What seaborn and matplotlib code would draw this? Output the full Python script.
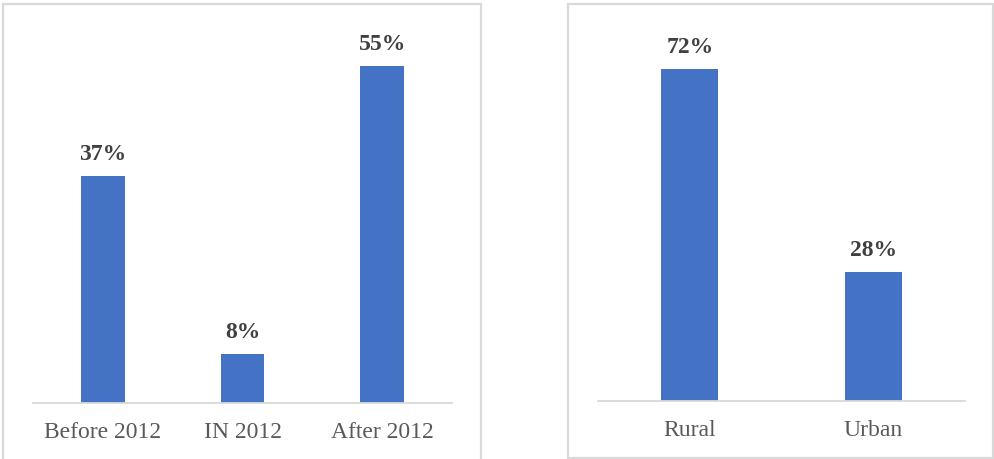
import matplotlib
matplotlib.use("Agg")
import matplotlib.pyplot as plt
from matplotlib.patches import Rectangle
import seaborn as sns
import pandas as pd

# Share of respondents by period
period_labels = ["Before 2012", "IN 2012", "After 2012"]
period_values = [37, 8, 55]

# Share of respondents by area
area_labels = ["Rural", "Urban"]
area_values = [72, 28]

BAR = "#4472C4"
GRID = "#D9D9D9"
TICK = "#595959"
VALUE = "#404040"

sns.set_theme(style="white")
plt.rcParams["font.family"] = ["Liberation Serif", "DejaVu Serif"]

W, H = 994, 459
fig = plt.figure(figsize=(W / 100, H / 100), dpi=100)


def px_axes(x0, y_top, x1, y_bottom):
    return fig.add_axes([x0 / W, (H - y_bottom) / H, (x1 - x0) / W, (y_bottom - y_top) / H])


# panel frames
for (x0, y0, x1, y1) in [(3, 4, 481, 462), (568, 4, 993, 458)]:
    fig.patches.append(Rectangle((x0 / W, (H - y1) / H), (x1 - x0) / W, (y1 - y0) / H,
                                 transform=fig.transFigure, fill=False,
                                 edgecolor=GRID, linewidth=1.6))


def draw(ax, labels, values, ymax, width):
    df = pd.DataFrame({"cat": labels, "val": values})
    sns.barplot(data=df, x="cat", y="val", ax=ax, color=BAR, saturation=1,
                width=width, linewidth=0)
    ax.set_xlim(-0.5, len(labels) - 0.5)
    ax.set_ylim(0, ymax)
    ax.set_xlabel("")
    ax.set_ylabel("")
    ax.set_yticks([])
    for s in ["top", "right", "left"]:
        ax.spines[s].set_visible(False)
    ax.spines["bottom"].set_color(GRID)
    ax.spines["bottom"].set_linewidth(1.3)
    ax.tick_params(axis="x", length=0, pad=14, labelsize=17, labelcolor=TICK)
    ax.patch.set_alpha(0)
    for i, v in enumerate(values):
        ax.annotate(f"{v}%", (i, v), xytext=(0, 8), textcoords="offset points",
                    ha="center", va="bottom", fontsize=17, fontweight="bold",
                    color=VALUE)


ax1 = px_axes(33, 35, 452, 403)
draw(ax1, period_labels, period_values, 60, 0.315)

ax2 = px_axes(598, 32, 965, 401)
draw(ax2, area_labels, area_values, 80, 0.31)

fig.savefig("out.png", dpi=100, facecolor="white")
